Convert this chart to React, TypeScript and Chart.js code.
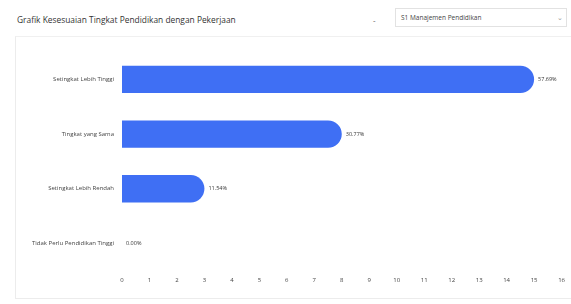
import React, { useEffect, useRef } from "react";
import { Chart, registerables } from "chart.js";

Chart.register(...registerables);

const categories = [
  "Setingkat Lebih Tinggi",
  "Tingkat yang Sama",
  "Setingkat Lebih Rendah",
  "Tidak Perlu Pendidikan Tinggi",
];
const counts = [15, 8, 3, 0];
const percentLabels = ["57.69%", "30.77%", "11.54%", "0.00%"];
const xMax = 16;

const FONT = "'Open Sans', 'Noto Sans', sans-serif";

const valueLabelPlugin = {
  id: "valueLabels",
  afterDatasetsDraw(chart: any) {
    const ctx = chart.ctx;
    const meta = chart.getDatasetMeta(0);
    ctx.save();
    ctx.font = `5.5px ${FONT}`;
    ctx.fillStyle = "#333";
    ctx.textBaseline = "middle";
    ctx.textAlign = "left";
    meta.data.forEach((el: any, i: number) => {
      ctx.fillText(percentLabels[i], el.x + 4, el.y);
    });
    ctx.restore();
  },
};

export default function App() {
  const ref = useRef<HTMLCanvasElement | null>(null);
  useEffect(() => {
    if (!ref.current) return;
    const chart = new Chart(ref.current, {
      type: "bar",
      data: {
        labels: categories,
        datasets: [
          {
            data: counts,
            backgroundColor: "#3f6ff4",
            borderRadius: { topRight: 14, bottomRight: 14, topLeft: 0, bottomLeft: 0 },
            borderSkipped: false,
            barPercentage: 0.5,
            categoryPercentage: 1,
          },
        ],
      },
      options: {
        indexAxis: "y",
        animation: false,
        responsive: false,
        maintainAspectRatio: false,
        layout: { padding: { left: 0, right: 2, top: 12, bottom: 0 } },
        plugins: { legend: { display: false }, tooltip: { enabled: false } },
        scales: {
          x: {
            min: 0,
            max: xMax,
            ticks: { stepSize: 1, color: "#444", font: { size: 6, family: FONT }, padding: 6 },
            grid: { display: false, tickLength: 0 },
            border: { display: false },
          },
          y: {
            ticks: { color: "#444", font: { size: 6, family: FONT }, padding: 0 },
            grid: { display: false },
            border: { display: false },
            afterFit: (s: any) => {
              s.width = 106;
            },
          },
        },
      },
      plugins: [valueLabelPlugin],
    });
    return () => chart.destroy();
  }, []);

  return (
    <div
      style={{
        position: "fixed",
        left: 0,
        top: 0,
        width: 571,
        height: 304,
        background: "#fff",
        fontFamily: FONT,
        overflow: "hidden",
      }}
    >
      <div
        style={{
          position: "absolute",
          left: 17,
          top: 14,
          fontSize: 8.4,
          color: "#333",
          whiteSpace: "nowrap",
        }}
      >
        Grafik Kesesuaian Tingkat Pendidikan dengan Pekerjaan
      </div>
      <div style={{ position: "absolute", left: 373, top: 14, fontSize: 8, color: "#555" }}>-</div>
      <div
        style={{
          position: "absolute",
          left: 395,
          top: 8,
          width: 172,
          height: 19,
          border: "1px solid #e2e2e2",
          boxSizing: "border-box",
          fontSize: 6.5,
          color: "#444",
          lineHeight: "17px",
          paddingLeft: 5,
          whiteSpace: "nowrap",
        }}
      >
        S1 Manajemen Pendidikan
        <span style={{ position: "absolute", right: 3, top: 0, color: "#999" }}>⌄</span>
      </div>
      <div
        style={{
          position: "absolute",
          left: 15,
          top: 36,
          width: 556,
          height: 263,
          borderLeft: "1px solid #ececec",
          borderTop: "1px solid #f0f0f0",
          borderBottom: "1px solid #ececec",
          boxSizing: "border-box",
        }}
      />
      <canvas
        ref={ref}
        width={555}
        height={250}
        style={{ position: "absolute", left: 16, top: 40, width: 555, height: 250 }}
      />
    </div>
  );
}
